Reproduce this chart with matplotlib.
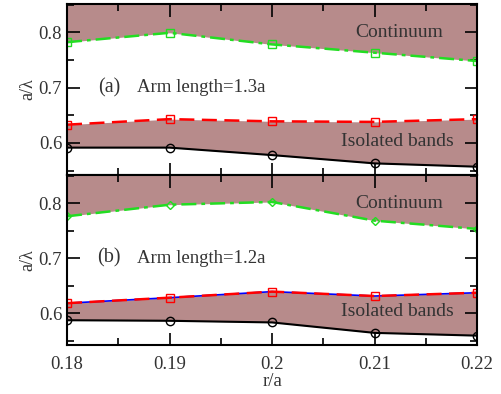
import matplotlib
matplotlib.use("Agg")
import matplotlib.pyplot as plt
from matplotlib.ticker import MultipleLocator

plt.rcParams["font.family"] = ["Liberation Serif", "DejaVu Serif"]
plt.rcParams["mathtext.fontset"] = "stix"

r_a = [0.18, 0.19, 0.20, 0.21, 0.22]

# panel (a): arm length 1.3a
cont_a = [0.782, 0.799, 0.778, 0.763, 0.748]
upper_a = [0.633, 0.643, 0.639, 0.638, 0.643]
lower_a = [0.5915, 0.5915, 0.578, 0.563, 0.557]

# panel (b): arm length 1.2a
cont_b = [0.776, 0.797, 0.802, 0.768, 0.753]
upper_b = [0.618, 0.628, 0.639, 0.631, 0.637]
lower_b = [0.587, 0.586, 0.583, 0.564, 0.559]

FILL = "#b78b8b"
TXT = "#333333"
YLIM = (0.542, 0.851)

fig = plt.figure(figsize=(5.02, 3.94), dpi=100)
ax_a = fig.add_axes([0.1335, 0.5558, 0.817, 0.434])
ax_b = fig.add_axes([0.1335, 0.1244, 0.817, 0.4314])

panels = [
    (ax_a, cont_a, upper_a, lower_a, "s", "(a)", "Arm length=1.3a", False),
    (ax_b, cont_b, upper_b, lower_b, "D", "(b)", "Arm length=1.2a", True),
]

for ax, cont, upper, lower, cmark, tag, arm, blue in panels:
    ax.fill_between(r_a, cont, YLIM[1], color=FILL, lw=0)
    ax.fill_between(r_a, lower, upper, color=FILL, lw=0)
    ax.plot(r_a, lower, color="black", lw=1.5, marker="o", ms=6, mfc="none", mew=1)
    if blue:
        ax.plot(r_a, upper, color="blue", lw=1.2)
    ax.plot(r_a, upper, color="red", lw=1.8, ls=(0, (6, 3)), marker="s", ms=6, mfc="none", mew=1)
    ax.plot(r_a, cont, color="#22dd22", lw=1.8, ls=(0, (6, 2, 1.5, 2)), marker=cmark,
            ms=6 if cmark == "s" else 4.5, mfc="none", mew=1)
    ax.set_xlim(0.18, 0.22)
    ax.set_ylim(*YLIM)
    ax.yaxis.set_major_locator(MultipleLocator(0.1))
    ax.yaxis.set_minor_locator(MultipleLocator(0.05))
    ax.xaxis.set_major_locator(MultipleLocator(0.01))
    ax.xaxis.set_minor_locator(MultipleLocator(0.005))
    ax.tick_params(which="both", direction="in", top=True, right=True, labelsize=13.5,
                   width=1.2, labelcolor=TXT)
    ax.tick_params(which="major", length=9)
    ax.tick_params(which="minor", length=5)
    ax.tick_params(axis="x", pad=8)
    for s in ax.spines.values():
        s.set_linewidth(1.5)
    ax.set_ylabel("a/λ", fontsize=13, labelpad=2, color=TXT)
    ax.text(0.1841, 0.7, tag, fontsize=14.5, ha="center", va="center", color=TXT)
    ax.text(0.1868, 0.7, arm, fontsize=13.5, ha="left", va="center", color=TXT)
    ax.text(0.2124, 0.8, "Continuum", fontsize=14, ha="center", va="center", color=TXT)
    ax.text(0.2122, 0.603, "Isolated bands", fontsize=14, ha="center", va="center", color=TXT)

ax_a.tick_params(labelbottom=False)
ax_b.set_yticks([0.6, 0.7, 0.8])
ax_b.set_xticks(r_a)
ax_b.set_xticklabels(["0.18", "0.19", "0.2", "0.21", "0.22"])
ax_b.set_xlabel("r/a", fontsize=13.5, labelpad=0, color=TXT)
ax_a.set_yticks([0.6, 0.7, 0.8])

fig.savefig("out.png", dpi=100)
